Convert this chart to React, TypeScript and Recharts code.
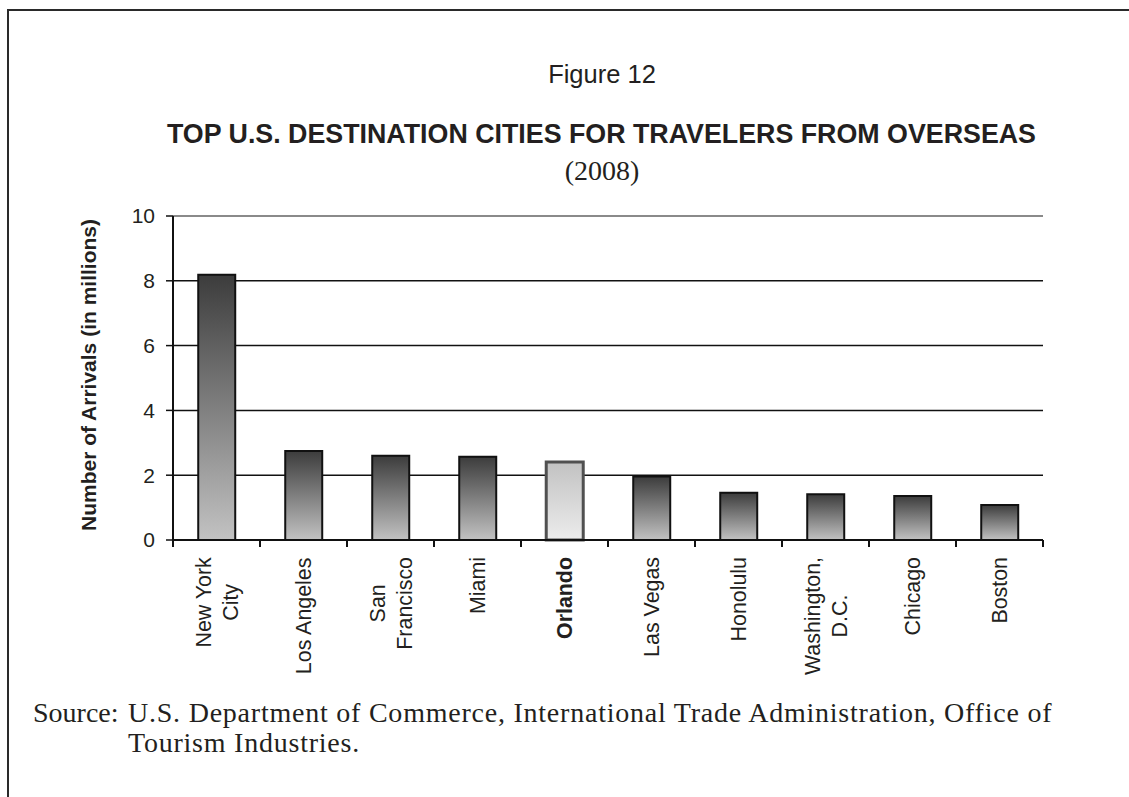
import { BarChart, Bar, Cell, XAxis, YAxis, CartesianGrid, ReferenceLine } from "recharts";

const cities = [
  "New York City",
  "Los Angeles",
  "San Francisco",
  "Miami",
  "Orlando",
  "Las Vegas",
  "Honolulu",
  "Washington, D.C.",
  "Chicago",
  "Boston",
];
// how each city label breaks into lines under the axis
const cityLines = [
  ["New York", "City"],
  ["Los Angeles"],
  ["San", "Francisco"],
  ["Miami"],
  ["Orlando"],
  ["Las Vegas"],
  ["Honolulu"],
  ["Washington,", "D.C."],
  ["Chicago"],
  ["Boston"],
];
// arrivals, millions
const arrivals = [8.19, 2.75, 2.6, 2.57, 2.41, 1.96, 1.46, 1.41, 1.36, 1.08];
const yTicks = [0, 2, 4, 6, 8, 10];
const highlight = "Orlando";

const data = cities.map((city, i) => ({ city, arrivals: arrivals[i] }));

const SANS = '"Liberation Sans", Arial, Helvetica, sans-serif';
const SERIF = '"Liberation Serif", "Times New Roman", serif';
const INK = "#231f20";

let measureCtx: CanvasRenderingContext2D | null = null;
function textWidth(s: string, font: string) {
  if (!measureCtx) measureCtx = document.createElement("canvas").getContext("2d");
  if (!measureCtx) return s.length * 10;
  measureCtx.font = font;
  return measureCtx.measureText(s).width;
}

function CityTick(props: any) {
  const { x, y, payload, index, visibleTicksCount } = props;
  const half = payload?.offset ?? 0;
  const lines = cityLines[index] ?? [String(payload.value)];
  const bold = payload.value === highlight;
  const size = 21.4;
  const font = `${bold ? "bold " : ""}${size}px ${SANS}`;
  const maxW = Math.max(...lines.map((l) => textWidth(l, font)));
  const lh = 27;
  return (
    <g>
      <line x1={x - half} y1={y} x2={x - half} y2={y + 7} stroke="#111" strokeWidth={2} />
      {index === visibleTicksCount - 1 && (
        <line x1={x + half} y1={y} x2={x + half} y2={y + 7} stroke="#111" strokeWidth={2} />
      )}
      <g transform={`translate(${x},${y + 17}) rotate(-90)`}>
        {lines.map((l, i) => (
          <text
            key={i}
            x={-maxW / 2}
            y={(i - (lines.length - 1) / 2) * lh}
            dy="0.36em"
            textAnchor="middle"
            fontFamily={SANS}
            fontSize={size}
            fontWeight={bold ? "bold" : "normal"}
            fill={INK}
          >
            {l}
          </text>
        ))}
      </g>
    </g>
  );
}

export default function App() {
  return (
    <div
      style={{
        position: "absolute",
        left: 0,
        top: 0,
        width: 1129,
        height: 797,
        background: "#fff",
        overflow: "hidden",
      }}
    >
      <div
        style={{
          position: "absolute",
          left: 7,
          top: 9,
          width: 1200,
          height: 900,
          borderLeft: "2px solid #2a2a2a",
          borderTop: "2px solid #2a2a2a",
        }}
      />
      <div style={{ position: "absolute", left: 0, top: 0 }}>
        <BarChart
          width={1129}
          height={797}
          data={data}
          margin={{ top: 216, right: 86, bottom: 137, left: 0 }}
          barCategoryGap="29%"
        >
          <defs>
            <linearGradient id="barDark" x1="0" y1="0" x2="0" y2="1">
              <stop offset="0%" stopColor="#3c3c3c" />
              <stop offset="100%" stopColor="#c2c2c2" />
            </linearGradient>
            <linearGradient id="barLight" x1="0" y1="0" x2="0" y2="1">
              <stop offset="0%" stopColor="#c2c2c2" />
              <stop offset="100%" stopColor="#ececec" />
            </linearGradient>
          </defs>
          <CartesianGrid vertical={false} stroke="#111" strokeWidth={1.5} />
          <ReferenceLine y={10} stroke="#8a8a8a" strokeWidth={2} />
          <XAxis
            dataKey="city"
            interval={0}
            height={120}
            axisLine={{ stroke: "#111", strokeWidth: 2 }}
            tickLine={false}
            tickSize={0}
            tickMargin={0}
            tick={<CityTick />}
          />
          <YAxis
            domain={[0, 10]}
            ticks={yTicks}
            width={173}
            tickSize={7}
            tickMargin={11}
            axisLine={{ stroke: "#111", strokeWidth: 2 }}
            tickLine={{ stroke: "#111", strokeWidth: 1.5 }}
            tick={{ fill: INK, fontSize: 21, fontFamily: SANS }}
          />
          <YAxis
            yAxisId="frame"
            orientation="right"
            domain={[0, 10]}
            width={0}
            tick={false}
            tickLine={false}
            axisLine={{ stroke: "#8a8a8a", strokeWidth: 2 }}
          />
          <Bar dataKey="arrivals" isAnimationActive={false} stroke="#111" strokeWidth={2}>
            {data.map((d) => (
              <Cell
                key={d.city}
                fill={d.city === highlight ? "url(#barLight)" : "url(#barDark)"}
                stroke={d.city === highlight ? "#505050" : "#111"}
                strokeWidth={d.city === highlight ? 3 : 2}
              />
            ))}
          </Bar>
        </BarChart>
      </div>
      <svg
        width={1129}
        height={797}
        style={{ position: "absolute", left: 0, top: 0, pointerEvents: "none" }}
      >
        <text x={602} y={83} textAnchor="middle" fontFamily={SANS} fontSize={25.5} fill={INK}>
          Figure 12
        </text>
        <text
          x={601.5}
          y={143}
          textAnchor="middle"
          fontFamily={SANS}
          fontSize={26.8}
          fontWeight="bold"
          fill={INK}
        >
          TOP U.S. DESTINATION CITIES FOR TRAVELERS FROM OVERSEAS
        </text>
        <text x={602} y={180} textAnchor="middle" fontFamily={SERIF} fontSize={28} fill={INK}>
          (2008)
        </text>
        <text
          transform="translate(96,375) rotate(-90)"
          textAnchor="middle"
          fontFamily={SANS}
          fontSize={21}
          fontWeight="bold"
          fill={INK}
        >
          Number of Arrivals (in millions)
        </text>
        <text x={33} y={722} fontFamily={SERIF} fontSize={28} fill={INK}>
          Source:
        </text>
        <text x={128} y={722} fontFamily={SERIF} fontSize={28} letterSpacing={0.77} fill={INK}>
          U.S. Department of Commerce, International Trade Administration, Office of
        </text>
        <text x={128} y={752} fontFamily={SERIF} fontSize={28} letterSpacing={0.77} fill={INK}>
          Tourism Industries.
        </text>
      </svg>
    </div>
  );
}
